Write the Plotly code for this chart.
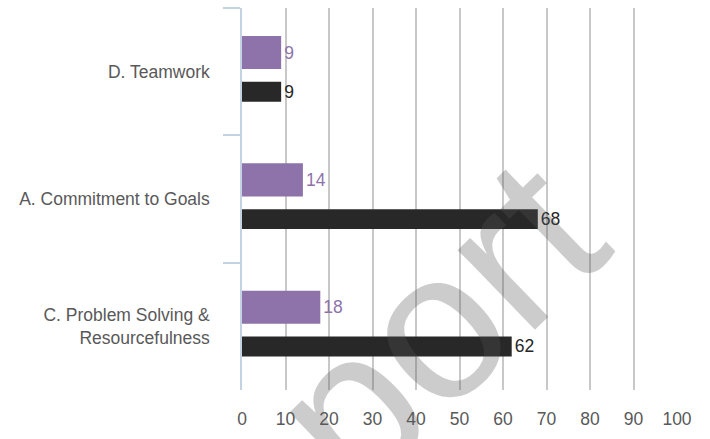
import plotly.graph_objects as go

# Competency categories, listed top to bottom
categories = [
    "D. Teamwork",
    "A. Commitment to Goals",
    "C. Problem Solving &<br>Resourcefulness",
]
purple_values = [9, 14, 18]
black_values = [9, 68, 62]
x_ticks = [0, 10, 20, 30, 40, 50, 60, 70, 80, 90, 100]

PURPLE = "#8D73AA"
DARK = "#282828"
LABEL_GRAY = "#595959"
AXIS_BLUE = "#C3D3E3"
FONT = "Liberation Sans, Arial, sans-serif"

fig = go.Figure()

fig.add_trace(go.Bar(
    y=categories,
    x=purple_values,
    orientation="h",
    marker=dict(color=PURPLE, line=dict(width=0)),
    offset=-0.28,
    width=0.26,
    text=[str(v) for v in purple_values],
    textposition="outside",
    textfont=dict(color=PURPLE, size=17.5, family=FONT),
    constraintext="none",
    cliponaxis=False,
    hoverinfo="skip",
))

fig.add_trace(go.Bar(
    y=categories,
    x=black_values,
    orientation="h",
    marker=dict(color=DARK, line=dict(width=0)),
    offset=0.08,
    width=0.156,
    text=[str(v) for v in black_values],
    textposition="outside",
    textfont=dict(color="#262626", size=17.5, family=FONT),
    constraintext="none",
    cliponaxis=False,
    hoverinfo="skip",
))

# Diagonal watermark
fig.add_annotation(
    text="Report",
    xref="paper", yref="paper",
    x=0.225, y=-0.073,
    xanchor="center", yanchor="middle",
    showarrow=False,
    textangle=-44,
    font=dict(size=210, color="rgba(85,85,85,0.3)", family=FONT),
)

fig.update_layout(
    width=710,
    height=439,
    autosize=False,
    margin=dict(l=242, r=33, t=8, b=49, pad=0),
    paper_bgcolor="white",
    plot_bgcolor="white",
    showlegend=False,
    barmode="overlay",
    font=dict(family=FONT, color=LABEL_GRAY, size=17.5),
    xaxis=dict(
        range=[0, 100],
        tickvals=x_ticks,
        ticktext=[str(t) for t in x_ticks],
        showgrid=True,
        gridcolor="#C8C8C8",
        gridwidth=1.5,
        zeroline=False,
        showline=False,
        ticks="",
        ticklabelstandoff=16,
        tickfont=dict(size=17.5, color=LABEL_GRAY, family=FONT),
        fixedrange=True,
    ),
    yaxis=dict(
        type="category",
        categoryorder="array",
        categoryarray=categories,
        range=[2.5, -0.5],
        showgrid=False,
        zeroline=False,
        showline=True,
        linecolor=AXIS_BLUE,
        linewidth=1.5,
        ticks="outside",
        tickson="boundaries",
        ticklen=17,
        tickwidth=1.5,
        tickcolor=AXIS_BLUE,
        ticklabelstandoff=27,
        tickfont=dict(size=17.5, color=LABEL_GRAY, family=FONT),
        fixedrange=True,
    ),
)

fig.write_html("out.html")
